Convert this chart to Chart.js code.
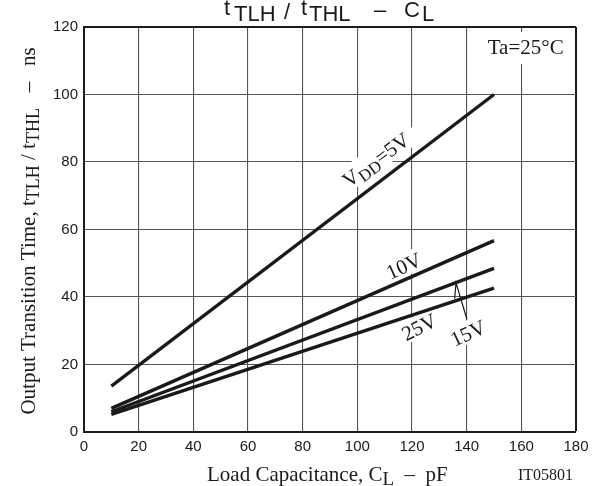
<!DOCTYPE html>
<html>
<head>
<meta charset="utf-8">
<script src="https://cdn.jsdelivr.net/npm/chart.js@4.4.1/dist/chart.umd.min.js"></script>
<style>
  html, body { margin: 0; padding: 0; background: #fff; }
  #wrap { width: 601px; height: 486px; }
</style>
</head>
<body>
<div id="wrap"><canvas id="chart"></canvas></div>
<script>
// values (load capacitance pF -> transition time ns)
const loadCap = [10, 150];
const vdd5  = [13.6, 100];
const vdd10 = [7.0, 56.7];
const vdd15 = [6.0, 48.5];
const vdd25 = [5.2, 42.6];
const xTicks = [0, 20, 40, 60, 80, 100, 120, 140, 160, 180];
const yTicks = [0, 20, 40, 60, 80, 100, 120];

const SERIF = '"Liberation Serif", "Times New Roman", serif';
const SANS = '"Liberation Sans", Arial, sans-serif';
const INK = '#1a1a1a';

function pts(ys) {
  return loadCap.map((x, i) => ({ x: x, y: ys[i] }));
}

// draws a run of [text, size, dy] pieces, centred on x (or left-aligned)
function drawRich(ctx, parts, x, y, family, left) {
  let w = 0;
  parts.forEach(p => { ctx.font = p[1] + 'px ' + family; w += ctx.measureText(p[0]).width; });
  let cx = left ? x : x - w / 2;
  ctx.textBaseline = 'alphabetic';
  ctx.textAlign = 'left';
  parts.forEach(p => {
    ctx.font = p[1] + 'px ' + family;
    ctx.fillText(p[0], cx, y + (p[2] || 0));
    cx += ctx.measureText(p[0]).width;
  });
  return w;
}

// curve labels: data position, rotation (deg), pieces, white mask size
const curveLabels = [
  { x: 106.8, y: 80.6, rot: -36, parts: [['V', 21, 0], ['DD', 17, 4], ['=5V', 21, 0]], mask: [96, 24] },
  { x: 117,   y: 49.2, rot: -25, parts: [['10V', 21, 0]], mask: [42, 22] },
  { x: 122.6, y: 31.1, rot: -27, parts: [['25V', 21, 0]], mask: [42, 22] },
  { x: 140.5, y: 29.3, rot: -25, parts: [['15V', 21, 0]], mask: [42, 22] }
];

// title pieces: text, x, baseline
const titleParts = [['t', 224, 15], ['TLH', 234, 21], ['/', 284, 19], ['t', 301, 15], ['THL', 309, 21], ['–', 374, 17], ['C', 404, 17], ['L', 422, 21]];

const annotate = {
  id: 'annotate',
  beforeDatasetsDraw(chart) {
    const ctx = chart.ctx, xs = chart.scales.x, ys = chart.scales.y;
    ctx.save();
    // Ta box
    const tx = xs.getPixelForValue(161.6), ty = ys.getPixelForValue(114.5);
    ctx.fillStyle = '#fff';
    ctx.fillRect(tx - 44, chart.chartArea.top + 5, 90, 32);
    ctx.fillStyle = INK;
    drawRich(ctx, [['Ta=25°C', 21, 0]], tx, ty + 8, SERIF);

    curveLabels.forEach(l => {
      const px = xs.getPixelForValue(l.x), py = ys.getPixelForValue(l.y);
      ctx.save();
      ctx.translate(px, py);
      ctx.rotate(l.rot * Math.PI / 180);
      ctx.fillStyle = '#fff';
      ctx.fillRect(-l.mask[0] / 2, -l.mask[1] / 2 - 1, l.mask[0], l.mask[1]);
      ctx.fillStyle = INK;
      drawRich(ctx, l.parts, 0, 7, SERIF);
      ctx.restore();
    });
    ctx.restore();
  },
  afterDatasetsDraw(chart) {
    const ctx = chart.ctx, xs = chart.scales.x, ys = chart.scales.y;
    ctx.save();
    ctx.strokeStyle = INK;
    ctx.lineWidth = 1.2;
    ctx.beginPath();
    ctx.moveTo(xs.getPixelForValue(135.6), ys.getPixelForValue(39.5));
    ctx.lineTo(xs.getPixelForValue(136.1), ys.getPixelForValue(44.2));
    ctx.lineTo(xs.getPixelForValue(140.1), ys.getPixelForValue(33.4));
    ctx.stroke();
    ctx.restore();
  },
  afterDraw(chart) {
    const ctx = chart.ctx;
    ctx.save();
    ctx.fillStyle = INK;
    ctx.textAlign = 'left';
    ctx.textBaseline = 'alphabetic';
    ctx.font = '22px ' + SANS;
    titleParts.forEach(p => ctx.fillText(p[0], p[1], p[2]));

    // x axis title
    drawRich(ctx, [['Load Capacitance, C', 21, 0], ['L', 19, 4], ['  –  pF', 21, 0]], 207, 481, SERIF, true);
    drawRich(ctx, [['IT05801', 16, 0]], 518, 480, SERIF, true);

    // y axis title
    ctx.translate(35, 231);
    ctx.rotate(-Math.PI / 2);
    drawRich(ctx, [['Output Transition Time, t', 21, 0], ['TLH', 18, 4], [' / t', 21, 0], ['THL', 18, 4], ['   –   ns', 21, 0]], 0, 0, SERIF);
    ctx.restore();
  }
};

const gridColor = (edgeValue) => (c) => (c.tick && c.tick.value === edgeValue ? INK : '#555');
const gridWidth = (edgeValue) => (c) => (c.tick && c.tick.value === edgeValue ? 2 : 1.1);

new Chart(document.getElementById('chart'), {
  type: 'scatter',
  data: {
    datasets: [
      { label: 'VDD=5V',  data: pts(vdd5) },
      { label: 'VDD=10V', data: pts(vdd10) },
      { label: 'VDD=15V', data: pts(vdd15) },
      { label: 'VDD=25V', data: pts(vdd25) }
    ].map(d => Object.assign(d, {
      showLine: true, borderColor: INK, borderWidth: 3.4, pointRadius: 0, fill: false
    }))
  },
  options: {
    responsive: true,
    maintainAspectRatio: false,
    animation: false,
    layout: { padding: { top: 27, right: 25, left: 0, bottom: 0 } },
    plugins: { legend: { display: false }, tooltip: { enabled: false } },
    scales: {
      x: {
        type: 'linear', min: 0, max: 180,
        afterBuildTicks: s => { s.ticks = xTicks.map(v => ({ value: v })); },
        afterFit: s => { s.height = 54; },
        ticks: { color: INK, font: { family: SANS, size: 15 }, padding: 6, maxRotation: 0 },
        grid: { color: gridColor(180), lineWidth: gridWidth(180), drawTicks: false },
        border: { color: INK, width: 2 }
      },
      y: {
        min: 0, max: 120,
        afterBuildTicks: s => { s.ticks = yTicks.map(v => ({ value: v })); },
        afterFit: s => { s.width = 84; },
        ticks: { color: INK, font: { family: SANS, size: 15 }, padding: 6 },
        grid: { color: gridColor(120), lineWidth: gridWidth(120), drawTicks: false },
        border: { color: INK, width: 2 }
      }
    }
  },
  plugins: [annotate]
});
</script>
</body>
</html>
